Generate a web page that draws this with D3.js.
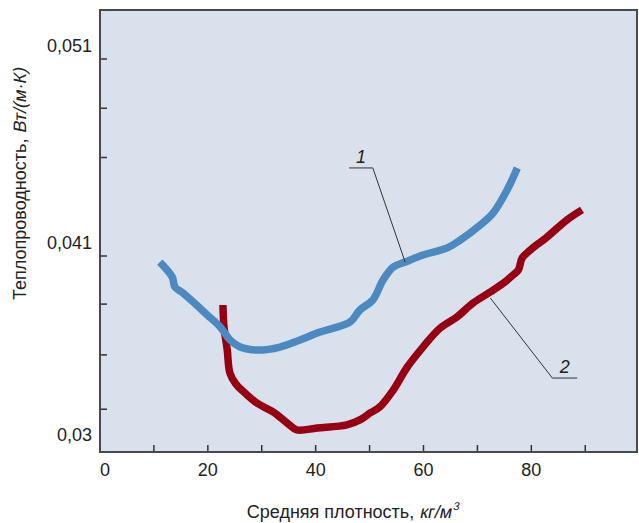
<!DOCTYPE html>
<html>
<head>
<meta charset="utf-8">
<script src="https://cdn.jsdelivr.net/npm/d3@7/dist/d3.min.js"></script>
<style>
  html, body { margin: 0; padding: 0; background: #ffffff; }
  svg { display: block; }
  text { font-family: "Liberation Sans", Arial, Helvetica, sans-serif; fill: #222; }
</style>
</head>
<body>
<svg id="chart" width="639" height="523"></svg>
<script>
// Density, kg/m3 (x) and thermal conductivity, W/(m·K) (y)
const curve1X = [11.1, 13.4, 13.9, 15.4, 17.3, 19.9, 22.3, 24.1, 26.0, 29.3, 33.4, 37.1, 40.8, 46.4, 48.2, 50.6, 52.5, 54.4, 56.6, 59.9, 64.4, 66.8, 70.5, 72.9, 75.5, 77.4];
const curve1Y = [0.04066, 0.03982, 0.03926, 0.03892, 0.03842, 0.03769, 0.03702, 0.03629, 0.03589, 0.03572, 0.03589, 0.03629, 0.03673, 0.03730, 0.03797, 0.03853, 0.03965, 0.04038, 0.04066, 0.04105, 0.04141, 0.04181, 0.04257, 0.04318, 0.04435, 0.04547];

const curve2X = [22.8, 23.0, 23.6, 24.1, 25.2, 26.9, 29.1, 32.1, 34.7, 36.5, 40.3, 45.8, 48.2, 50.1, 51.9, 54.4, 57.0, 59.9, 63.1, 66.2, 69.2, 72.4, 75.1, 76.6, 77.6, 78.3, 79.8, 82.9, 86.6, 89.4];
const curve2Y = [0.03825, 0.03702, 0.03572, 0.03443, 0.03382, 0.03331, 0.03275, 0.03225, 0.03163, 0.03124, 0.03135, 0.03152, 0.03180, 0.03219, 0.03253, 0.03348, 0.03477, 0.03589, 0.03696, 0.03758, 0.03836, 0.03898, 0.03954, 0.03993, 0.04021, 0.04089, 0.04130, 0.04196, 0.04283, 0.04334];

const xTicks = [10, 20, 30, 40, 50, 60, 70, 80, 90];
const xTickLabels = [0, 20, 40, 60, 80];
const yLabelValues = [0.03, 0.041, 0.051];
const yLabelTexts = ["0,03", "0,041", "0,051"];
const yMinorTicks = [0.0485, 0.046, 0.0383, 0.03545, 0.0324];

// Leader annotations: [anchor on curve, elbow, end of underline], in data units
const label1Pts = [[56.6, 0.04066], [50.6, 0.04547], [46.2, 0.04547]];
const label2Pts = [[72.4, 0.03864], [83.9, 0.03415], [88.5, 0.03415]];

const plot = { left: 100, top: 10, right: 637, bottom: 452 };

const svg = d3.select("#chart");

const x = d3.scaleLinear().domain([0, 99.6]).range([plot.left, plot.right]);
// the printed axis is split at 0,041: two linear pieces
const y = d3.scaleLinear().domain([0.03, 0.041, 0.051]).range([452, 256, 59]);

// plot background
svg.append("rect")
  .attr("x", plot.left).attr("y", plot.top)
  .attr("width", plot.right - plot.left).attr("height", plot.bottom - plot.top)
  .attr("fill", "#d9e1ed");

// y axis ticks (inward)
const yTickAll = [0.041, 0.051].concat(yMinorTicks);
svg.append("g").selectAll("line").data(yTickAll).join("line")
  .attr("x1", plot.left).attr("x2", plot.left + 7)
  .attr("y1", d => y(d)).attr("y2", d => y(d))
  .attr("stroke", "#333").attr("stroke-width", 1.5);

// x axis ticks (inward)
svg.append("g").selectAll("line").data(xTicks).join("line")
  .attr("x1", d => x(d)).attr("x2", d => x(d))
  .attr("y1", plot.bottom).attr("y2", plot.bottom - 7)
  .attr("stroke", "#333").attr("stroke-width", 1.5);

// frame
svg.append("rect")
  .attr("x", plot.left).attr("y", plot.top)
  .attr("width", plot.right - plot.left).attr("height", plot.bottom - plot.top)
  .attr("fill", "none").attr("stroke", "#4a4a4a").attr("stroke-width", 2);

// y tick labels
svg.append("g").selectAll("text").data(yLabelValues).join("text")
  .attr("x", 92)
  .attr("y", (d, i) => y(d) - (i === 0 ? 11 : 7))
  .attr("text-anchor", "end")
  .attr("font-size", 18)
  .text((d, i) => yLabelTexts[i]);

// x tick labels
svg.append("g").selectAll("text").data(xTickLabels).join("text")
  .attr("x", d => d === 0 ? x(d) + 5 : x(d))
  .attr("y", 476)
  .attr("text-anchor", "middle")
  .attr("font-size", 18)
  .text(d => d);

// Axis title: upright part, a word space, then a slanted (oblique) units part.
function axisTitle(g, plain, slanted, size, sup) {
  const a = g.append("text").attr("font-size", size).text(plain);
  const wa = a.node().getComputedTextLength() + size * 0.28;
  const b = g.append("text").attr("font-size", size)
    .attr("transform", `translate(${wa},0) skewX(-12)`);
  b.append("tspan").text(slanted);
  if (sup) b.append("tspan").attr("font-size", size * 0.62).attr("dy", -size * 0.42).text(sup);
  const wb = b.node().getBBox().width;
  return wa + wb;
}

const yTitleG = svg.append("g");
const yw = axisTitle(yTitleG, "Теплопроводность,", "Вт/(м·К)", 18);
yTitleG.attr("transform", `translate(26,${184 + yw / 2}) rotate(-90)`);

const xTitleG = svg.append("g");
const xw = axisTitle(xTitleG, "Средняя плотность,", "кг/м", 18, "3");
xTitleG.attr("transform", `translate(${352 - xw / 2},518)`);

// curves
const line = d3.line()
  .x(d => x(d[0]))
  .y(d => y(d[1]))
  .curve(d3.curveCatmullRom.alpha(0.5));

const pts1 = curve1X.map((v, i) => [v, curve1Y[i]]);
const pts2 = curve2X.map((v, i) => [v, curve2Y[i]]);

svg.append("path").datum(pts2)
  .attr("d", line)
  .attr("fill", "none").attr("stroke", "#960012").attr("stroke-width", 7.5)
  .attr("stroke-linejoin", "round");

svg.append("path").datum(pts1)
  .attr("d", line)
  .attr("fill", "none").attr("stroke", "#4b89c0").attr("stroke-width", 7.5)
  .attr("stroke-linejoin", "round");

// leader lines with curve numbers
const leader = d3.line().x(d => x(d[0])).y(d => y(d[1]));
[[label1Pts, "1"], [label2Pts, "2"]].forEach(([pts, name]) => {
  svg.append("path").datum(pts)
    .attr("d", leader)
    .attr("fill", "none").attr("stroke", "#333").attr("stroke-width", 1);
  const cx = (x(pts[1][0]) + x(pts[2][0])) / 2;
  svg.append("text")
    .attr("x", cx).attr("y", y(pts[1][1]) - 5)
    .attr("text-anchor", "middle")
    .attr("font-size", 18)
    .attr("font-style", "italic")
    .text(name);
});
</script>
</body>
</html>
